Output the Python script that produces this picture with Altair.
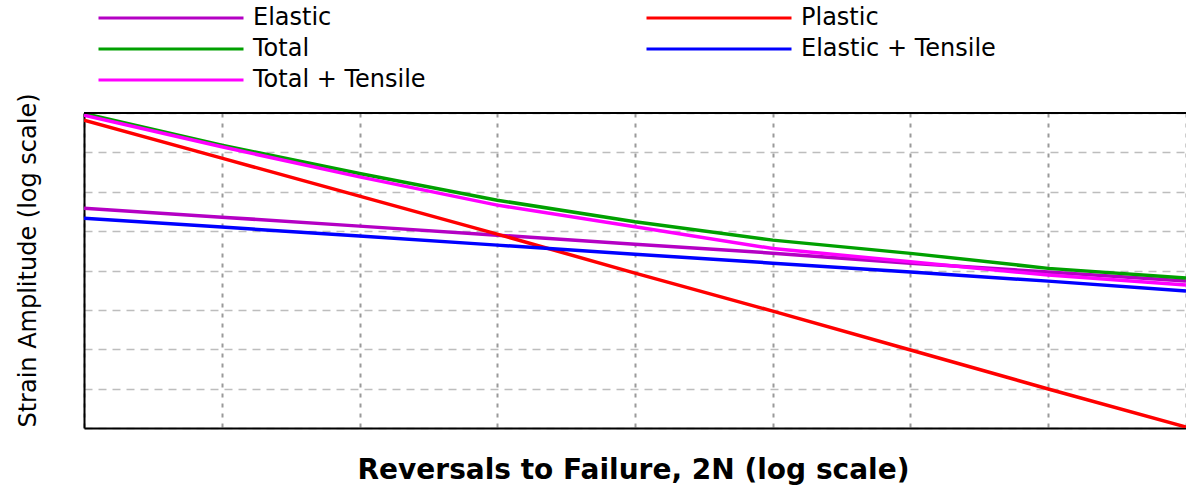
import altair as alt
import pandas as pd

# Reversals to failure (2N), one reading per decade
reversals = [1, 10, 100, 1e3, 1e4, 1e5, 1e6, 1e7, 1e8]

# Strain amplitude of each curve at those reversals
elastic = [0.00619, 0.00476, 0.00366, 0.00281, 0.00216, 0.00166, 0.00124, 0.000955, 0.000733]
plastic = [0.0811, 0.0267, 0.00879, 0.00290, 0.000927, 0.000305, 0.0000977, 0.0000313, 0.0000103]
total = [0.0986, 0.0390, 0.01706, 0.00781, 0.00415, 0.00243, 0.00165, 0.001064, 0.000802]
elastic_tensile = [0.00462, 0.00356, 0.00274, 0.00210, 0.00161, 0.00124, 0.000955, 0.000733, 0.000548]
total_tensile = [0.0938, 0.0372, 0.01545, 0.00676, 0.00359, 0.00190, 0.00129, 0.000875, 0.000653]

series_names = ["Elastic", "Plastic", "Total", "Elastic + Tensile", "Total + Tensile"]
series_colors = ["#B400C4", "#FF0000", "#00A000", "#0000FF", "#FF00FF"]
series_values = [elastic, plastic, total, elastic_tensile, total_tensile]

# Horizontal grid every half decade of strain
strain_grid = [10 ** (-5 + 0.5 * k) for k in range(9)]

rows = []
for name, vals in zip(series_names, series_values):
    for x, y in zip(reversals, vals):
        rows.append({"series": name, "reversals": x, "strain": y})
df = pd.DataFrame(rows)

W, H = 1102, 315
FONT = "DejaVu Sans"

lines = alt.Chart(df).mark_line(strokeWidth=3.5, clip=True).encode(
    x=alt.X(
        "reversals:Q",
        scale=alt.Scale(type="log", domain=[1, 1e8]),
        axis=alt.Axis(
            values=reversals, labels=False, ticks=False,
            grid=True, gridDash=[4, 6], gridColor="#9a9a9a", gridWidth=2,
            domainColor="black", domainWidth=2,
            title="Reversals to Failure, 2N (log scale)",
            titleFont=FONT, titleFontSize=28, titleFontWeight="bold", titleColor="black",
            titleX=549, titleY=42, titleBaseline="middle", titleAlign="center",
        ),
    ),
    y=alt.Y(
        "strain:Q",
        scale=alt.Scale(type="log", domain=[1e-5, 1e-1]),
        axis=alt.Axis(
            values=strain_grid, labels=False, ticks=False,
            grid=True, gridDash=[8, 6], gridColor="#bdbdbd", gridWidth=1.5,
            domainColor="black", domainWidth=2,
            title="Strain Amplitude (log scale)",
            titleFont=FONT, titleFontSize=24, titleFontWeight="normal", titleColor="black",
            titleX=-56, titleY=147, titleAngle=270, titleAlign="center", titleBaseline="middle",
        ),
    ),
    color=alt.Color(
        "series:N",
        scale=alt.Scale(domain=series_names, range=series_colors),
        legend=alt.Legend(
            title=None, orient="none", direction="horizontal",
            legendX=13, legendY=-111, columns=2,
            # long horizontal stroke drawn to the right of a small layout box
            symbolType="M-1,0H9", symbolSize=29 ** 2, symbolStrokeWidth=3,
            symbolFillColor="transparent",
            labelFont=FONT, labelFontSize=24, labelColor="black", labelOffset=124,
            labelLimit=400, columnPadding=214, rowPadding=3,
        ),
    ),
)

frame_top = alt.Chart(alt.Data(values=[{}])).mark_rule(color="black", strokeWidth=2).encode(
    x=alt.value(0), x2=alt.value(W), y=alt.value(0)
)

chart = alt.layer(lines, frame_top).properties(
    width=W, height=H,
    padding={"left": 84, "top": 113, "right": 0, "bottom": 62},
    autosize="none",
).configure_view(stroke=None).configure(background="white")

chart.save("out.html", embed_options={"renderer": "svg", "actions": False})
